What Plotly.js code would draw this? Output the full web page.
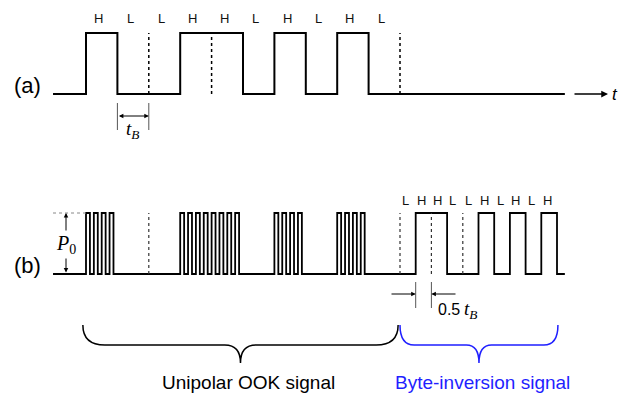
<!DOCTYPE html>
<html><head><meta charset="utf-8">
<script src="https://cdn.plot.ly/plotly-3.0.1.min.js"></script>
<style>html,body{margin:0;padding:0;background:#fff}#chart{width:625px;height:394px}</style>
</head><body><div id="chart"></div>
<script>
// ---------- data ----------
const bitsA = ['H','L','L','H','H','L','H','L','H','L'];   // NRZ bits of (a), one t_B each
const bitsB = ['L','H','H','L','L','H','L','H','L','H'];   // byte-inversion bits, 0.5 t_B each
const chipsPerBit = 4;                                     // OOK chips inside each H bit of (b)
const dashedA = [2, 4, 10];                                // bit boundaries marked in (a)
const dashedB = [2, 10, 11, 12];                           // bit boundaries marked in (b)
const traceStart = -1.05, traceEnd = 15.25;                // time extent (in t_B)

// ---------- geometry (layout only) ----------
const X0 = 86, UNIT = 31.4, Y0 = 94, YU = 61, W = 625, H = 394;
const nx = px => (px - X0) / UNIT;
const ny = py => (Y0 - py) / YU;
const YA = 0, YB = ny(274);

// waveform (a)
const ax_ = [traceStart], ay_ = [YA];
bitsA.forEach((b, i) => { ax_.push(i); ay_.push(b === 'H' ? YA + 1 : YA); });
ax_.push(bitsA.length, traceEnd); ay_.push(YA, YA);

// waveform (b)
const bx = [traceStart], by = [YB];
bitsA.forEach((b, i) => {
  if (b === 'H') {
    for (let k = 0; k < chipsPerBit; k++) {
      bx.push(i + k / chipsPerBit); by.push(YB + 1);
      bx.push(i + (k + 0.5) / chipsPerBit); by.push(YB);
    }
  } else { bx.push(i); by.push(YB); }
});
const nA = bitsA.length;
bitsB.forEach((b, j) => { bx.push(nA + j * 0.5); by.push(b === 'H' ? YB + 1 : YB); });
bx.push(nA + bitsB.length * 0.5, traceEnd); by.push(YB, YB);

function vlines(list, y0, y1) {
  const x = [], y = [];
  list.forEach(n => { x.push(n, n, null); y.push(y0, y1, null); });
  return {x, y};
}
const dA = vlines(dashedA, YA, YA + 1), dB = vlines(dashedB, YB, YB + 1);

const traces = [
  {x: ax_, y: ay_, mode: 'lines', line: {shape: 'hv', color: '#000', width: 2}, hoverinfo: 'skip'},
  {x: bx, y: by, mode: 'lines', line: {shape: 'hv', color: '#000', width: 1.8}, hoverinfo: 'skip'},
  {x: dA.x, y: dA.y, mode: 'lines', line: {color: '#000', width: 1.5, dash: 'dot'}, hoverinfo: 'skip'},
  {x: dB.x, y: dB.y, mode: 'lines', line: {color: '#333', width: 1.2, dash: 'dot'}, hoverinfo: 'skip'}
];

// braces
function brace(x0, x1, r, rt) {
  const yt = ny(325), yh = ny(345), yp = ny(363), xm = (x0 + x1) / 2;
  return `M ${x0},${yt} Q ${x0},${yh} ${x0 + r},${yh} L ${xm - rt},${yh} Q ${xm},${yh} ${xm},${yp} ` +
         `Q ${xm},${yh} ${xm + rt},${yh} L ${x1 - r},${yh} Q ${x1},${yh} ${x1},${yt}`;
}
const ookEnd = nA, invEnd = nA + bitsB.length * 0.5;
const shapes = [
  {type: 'path', xref: 'x', yref: 'y', path: brace(-0.1, ookEnd - 0.06, 0.7, 0.5), line: {color: '#000', width: 1.5}},
  {type: 'path', xref: 'x', yref: 'y', path: brace(ookEnd + 0.0, invEnd + 0.03, 0.45, 0.4), line: {color: '#1f1fff', width: 1.5}},
  // t_B extension ticks (a)
  {type: 'line', xref: 'x', yref: 'y', x0: 1, x1: 1, y0: ny(103), y1: ny(130), line: {color: '#555', width: 1}},
  {type: 'line', xref: 'x', yref: 'y', x0: 2, x1: 2, y0: ny(103), y1: ny(130), line: {color: '#555', width: 1}},
  // 0.5 t_B ticks (b)
  {type: 'line', xref: 'x', yref: 'y', x0: 10.5, x1: 10.5, y0: ny(282), y1: ny(308), line: {color: '#555', width: 1}},
  {type: 'line', xref: 'x', yref: 'y', x0: 11, x1: 11, y0: ny(282), y1: ny(308), line: {color: '#555', width: 1}},
  // P0 reference dotted line
  {type: 'line', xref: 'x', yref: 'y', x0: traceStart, x1: 0, y0: YB + 1, y1: YB + 1, line: {color: '#888', width: 1, dash: 'dot'}}
];

const sans = 'Liberation Sans, Arial, sans-serif', serif = 'Liberation Serif, Times New Roman, serif';
const ann = [];
bitsA.forEach((b, i) => ann.push({x: i + 0.5, y: ny(18), text: b, showarrow: false, xshift: -3,
  font: {family: sans, size: 13, color: '#111'}}));
bitsB.forEach((b, j) => ann.push({x: nA + j * 0.5 + 0.25, y: ny(200), text: b, showarrow: false, xshift: -2,
  font: {family: sans, size: 13, color: '#111'}}));
const arr = (x, y, axv, ayv, side) => ({x, y, ax: axv, ay: ayv, axref: 'x', ayref: 'y', text: '', showarrow: true,
  arrowhead: 2, arrowsize: 0.9, arrowwidth: 1, arrowcolor: '#000', arrowside: side || 'end', standoff: 0, startstandoff: 0});
ann.push(
  {x: nx(27), y: ny(85), text: '(a)', showarrow: false, font: {family: sans, size: 22, color: '#000'}},
  {x: nx(27), y: ny(265), text: '(b)', showarrow: false, font: {family: sans, size: 22, color: '#000'}},
  Object.assign(arr(nx(608), YA, nx(573), YA), {arrowwidth: 1.5}),
  {x: nx(610), y: YA, xanchor: 'left', text: '<i>t</i>', showarrow: false, font: {family: sans, size: 17, color: '#000'}},
  arr(2, ny(116), 1, ny(116), 'end+start'),
  {x: nx(132), y: ny(130), text: '<i>t</i><sub><i>B</i></sub>', showarrow: false, font: {family: serif, size: 19, color: '#000'}},
  arr(nx(66), YB + 1, nx(66), YB, 'end+start'),
  {x: nx(66), y: ny(244), text: '<i>P</i><sub>0</sub>', showarrow: false, bgcolor: '#fff',
   font: {family: serif, size: 20, color: '#000'}},
  arr(10.5, ny(294), nx(390), ny(294)),
  arr(11, ny(294), nx(457), ny(294)),
  {x: nx(436), y: ny(309), xanchor: 'left', text: '0.5', showarrow: false, font: {family: sans, size: 16, color: '#000'}},
  {x: nx(462), y: ny(310), xanchor: 'left', text: '<i>t</i><sub><i>B</i></sub>', showarrow: false, font: {family: serif, size: 19, color: '#000'}},
  {x: nx(248.5), y: ny(382), text: 'Unipolar OOK signal', showarrow: false, font: {family: sans, size: 19, color: '#000'}},
  {x: nx(482.5), y: ny(382), text: 'Byte-inversion signal', showarrow: false, font: {family: sans, size: 19, color: '#1f1fff'}}
);

const layout = {
  width: W, height: H, margin: {l: 0, r: 0, t: 0, b: 0}, showlegend: false,
  paper_bgcolor: '#fff', plot_bgcolor: '#fff',
  xaxis: {range: [nx(0), nx(W)], visible: false, fixedrange: true},
  yaxis: {range: [ny(H), ny(0)], visible: false, fixedrange: true},
  shapes, annotations: ann
};
Plotly.newPlot('chart', traces, layout, {staticPlot: true, displayModeBar: false});
</script></body></html>
